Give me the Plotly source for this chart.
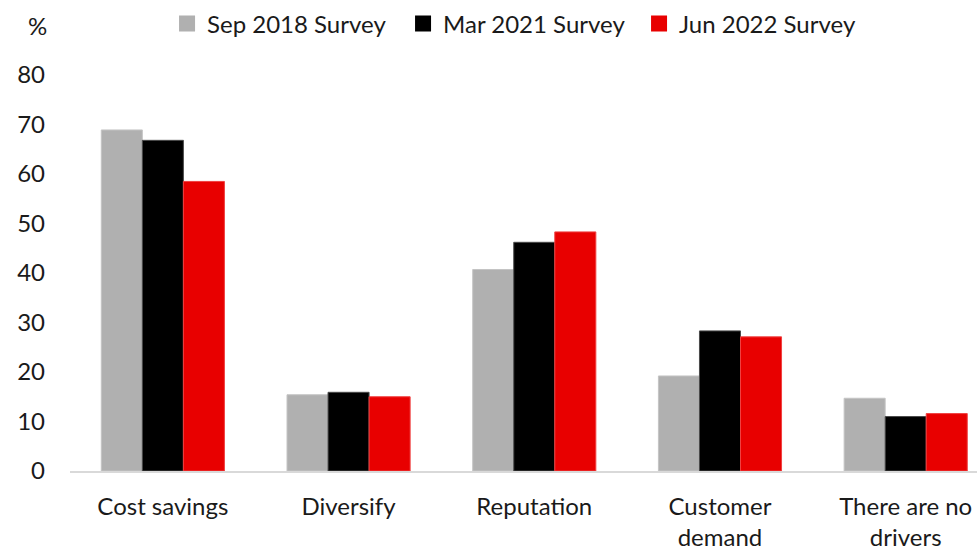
import plotly.graph_objects as go

categories = ["Cost savings", "Diversify", "Reputation", "Customer<br>demand", "There are no<br>drivers"]
sep_2018 = [68.9, 15.4, 40.7, 19.2, 14.7]
mar_2021 = [66.8, 15.9, 46.2, 28.3, 11.0]
jun_2022 = [58.5, 15.0, 48.3, 27.1, 11.6]
y_ticks = [0, 10, 20, 30, 40, 50, 60, 70, 80]

series = [
    ("Sep 2018 Survey", sep_2018, "#b0b0b0", "#c4c4c4"),
    ("Mar 2021 Survey", mar_2021, "#000000", "#4a4a4a"),
    ("Jun 2022 Survey", jun_2022, "#e80000", "#f04040"),
]

FONT = "Lato, 'Noto Sans', sans-serif"

fig = go.Figure()
for name, vals, color, edge in series:
    fig.add_trace(go.Bar(
        name=name, x=categories, y=vals,
        marker=dict(color=color, line=dict(color=edge, width=1)),
        showlegend=False,
    ))
    # legend swatch
    fig.add_trace(go.Scatter(
        name=name, x=[None], y=[None], mode="markers",
        marker=dict(symbol="square", size=16, color=color),
        showlegend=True,
    ))

fig.update_layout(
    width=977, height=548,
    margin=dict(l=70, r=0, t=75, b=77),
    paper_bgcolor="white", plot_bgcolor="white",
    font=dict(family=FONT, size=24, color="#1a1a1a"),
    barmode="group", bargap=0.337, bargroupgap=0,
    showlegend=True,
    legend=dict(
        orientation="h", x=0.107, xanchor="left", y=1.072, yanchor="bottom",
        font=dict(size=24), itemsizing="trace",
        entrywidth=191, entrywidthmode="pixels",
        bgcolor="rgba(0,0,0,0)",
    ),
    xaxis=dict(
        range=[-0.5, 4.384], showline=True, linecolor="#d9d9d9", linewidth=2,
        ticks="", showgrid=False, zeroline=False, tickfont=dict(size=24),
        ticklabelstandoff=13, automargin=False,
    ),
    yaxis=dict(
        range=[0, 80], tickvals=y_ticks, showgrid=False, zeroline=False,
        showline=False, ticks="", ticklabelstandoff=24, tickfont=dict(size=24),
        automargin=False,
    ),
    annotations=[dict(
        text="%", xref="paper", yref="paper", x=-0.036, y=1.0, yshift=50,
        xanchor="center", yanchor="middle", showarrow=False, font=dict(size=24),
    )],
)

fig.write_html("out.html")
